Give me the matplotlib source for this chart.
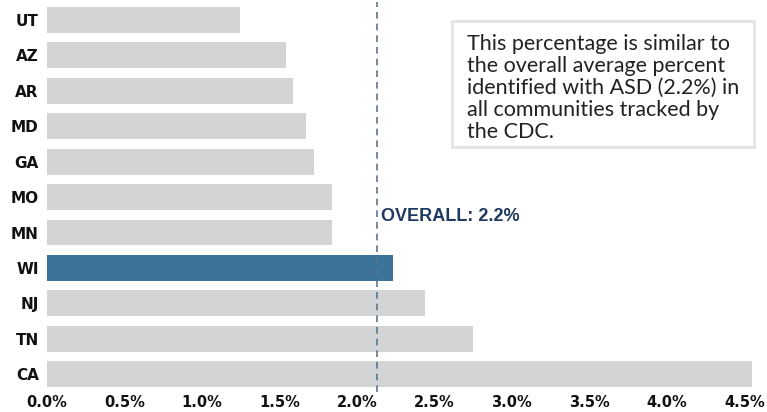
import matplotlib
matplotlib.use("Agg")
import matplotlib.pyplot as plt
from matplotlib.patches import Rectangle

states = ["UT", "AZ", "AR", "MD", "GA", "MO", "MN", "WI", "NJ", "TN", "CA"]
values = [1.245, 1.54, 1.59, 1.67, 1.72, 1.84, 1.84, 2.23, 2.44, 2.75, 4.55]
highlight = "WI"
overall_line = 2.13
overall_label = "OVERALL: 2.2%"
xticks = [0.0, 0.5, 1.0, 1.5, 2.0, 2.5, 3.0, 3.5, 4.0, 4.5]
xtick_labels = ["0.0%", "0.5%", "1.0%", "1.5%", "2.0%", "2.5%", "3.0%", "3.5%", "4.0%", "4.5%"]
note = ("This percentage is similar to\nthe overall average percent\n"
        "identified with ASD (2.2%) in\nall communities tracked by\nthe CDC.")

W, H = 767, 412
fig = plt.figure(figsize=(W / 100, H / 100), dpi=100)
ax = fig.add_axes([47 / W, 1 - 392 / H, (752 - 47) / W, (392 - 2.25) / H])

colors = ["#3d7399" if s == highlight else "#d3d4d6" for s in states]
ypos = list(range(len(states)))
ax.barh(ypos, values, height=0.73, color=colors, zorder=2)
ax.set_ylim(len(states) - 0.5, -0.5)
ax.set_xlim(0, 4.55)

ax.axvline(overall_line, color="#5a7590", linestyle=(0, (4, 3)), linewidth=1.2, zorder=3)
ax.text(overall_line + 0.025, 5.55, overall_label, color="#1f3a5f", fontsize=13,
        fontweight="bold", family="Liberation Sans", va="center", ha="left", zorder=4)

ax.set_yticks(ypos)
ax.set_yticklabels(states, fontsize=11, fontweight="bold", family="DejaVu Sans", color="#111111")
ax.set_xticks(xticks)
ax.set_xticklabels(xtick_labels, fontsize=10.5, fontweight="bold", family="DejaVu Sans", color="#111111")
ax.tick_params(length=0, pad=6)
ax.tick_params(axis="x", pad=2)
for sp in ax.spines.values():
    sp.set_visible(False)

fig.text(467 / W, 1 - 34 / H, note, fontsize=15.5, family="Lato", color="#222222",
         va="top", ha="left", linespacing=1.13)
fig.patches.append(Rectangle((452 / W, 1 - 147 / H), (754 - 452) / W, (147 - 21) / H,
                             transform=fig.transFigure, facecolor="white",
                             edgecolor="#e3e4e6", linewidth=2, zorder=0))

fig.savefig("out.png", dpi=100)
